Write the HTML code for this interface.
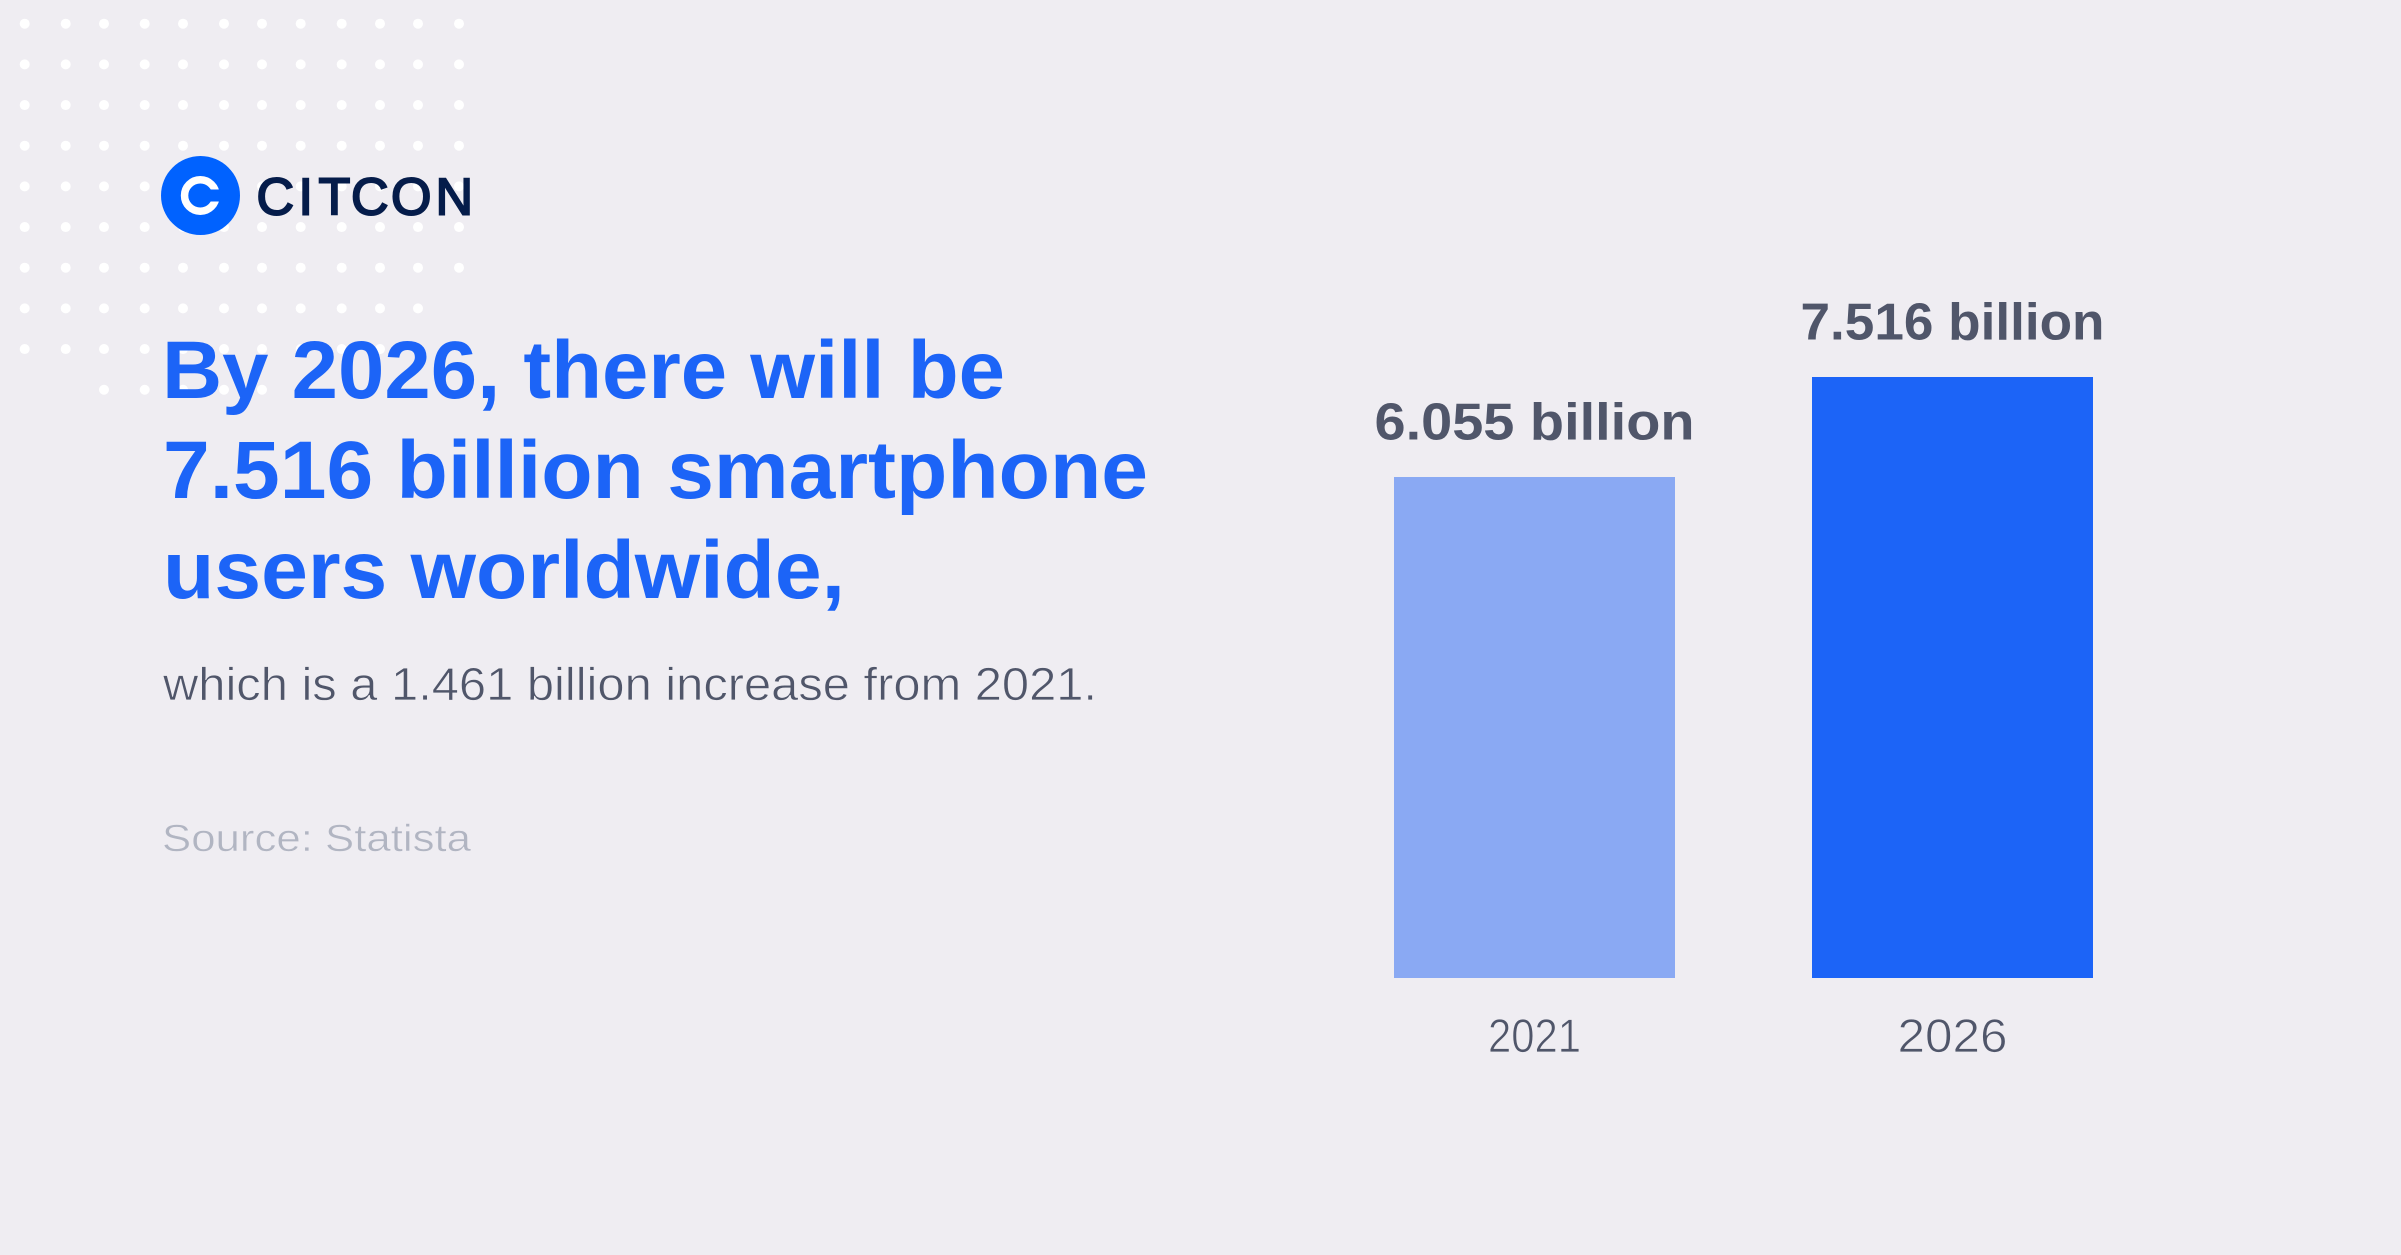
<!DOCTYPE html>
<html lang="en">
<head>
<meta charset="utf-8">
<title>Smartphone users worldwide</title>
<style>
html,body{margin:0;padding:0;background:#efedf2;width:2401px;height:1255px;overflow:hidden}
svg{display:block;position:absolute;left:0;top:0}
text{font-family:"Liberation Sans",sans-serif}
.title{font-weight:700;font-size:82px;fill:#1c64f7}
.sub{font-size:46px;fill:#50566a;stroke:#efedf2;stroke-width:.7px}
.src{font-size:38px;fill:#b1b5c2;stroke:#efedf2;stroke-width:.5px}
.val{font-weight:700;font-size:52px;fill:#50566a}
.tick{font-size:47px;fill:#50566a;stroke:#efedf2;stroke-width:.8px}
.logo{font-size:52px;fill:#051c4a;stroke:#051c4a;stroke-width:2px}
</style>
</head>
<body>
<svg id="chart" width="2401" height="1255" viewBox="0 0 2401 1255" xmlns="http://www.w3.org/2000/svg">
  <rect width="2401" height="1255" fill="#efedf2"/>
  <g id="dots" fill="#ffffff"></g>
  <g>
    <circle cx="200.5" cy="195.5" r="39.5" fill="#0062ff"/>
    <circle cx="200.3" cy="195.5" r="15.75" fill="none" stroke="#ffffff" stroke-width="7.5"/>
    <rect x="204" y="189.5" width="20" height="12" fill="#0062ff"/>
    <text class="logo" y="214.5"><tspan x="256.5">C</tspan><tspan x="298.5">I</tspan><tspan x="318.5">T</tspan><tspan x="351">C</tspan><tspan x="391">O</tspan><tspan x="435.5">N</tspan></text>
  </g>
  <text class="title" x="162" y="398" textLength="843" lengthAdjust="spacingAndGlyphs">By 2026, there will be</text>
  <text class="title" x="163" y="498" textLength="985" lengthAdjust="spacingAndGlyphs">7.516 billion smartphone</text>
  <text class="title" x="163" y="598" textLength="682" lengthAdjust="spacingAndGlyphs">users worldwide,</text>
  <text class="sub" x="163" y="700" textLength="934" lengthAdjust="spacingAndGlyphs">which is a 1.461 billion increase from 2021.</text>
  <text class="src" x="162" y="851" textLength="309" lengthAdjust="spacingAndGlyphs">Source: Statista</text>
  <g id="bars"></g>
</svg>
<script>
const categories = ['2021', '2026'];
const seriesValues = [6.055, 7.516];
const barColors = ['#8aa9f3', '#1c64f7'];

const NS = 'http://www.w3.org/2000/svg';
const yDomain = [-1.264, 7.516];
const yRange = [978, 377];
const xStart = 1534.5, xStep = 418, barWidth = 281;

function xScale(i) { return xStart + i * xStep; }
function yScale(v) {
  return yRange[0] + (v - yDomain[0]) * (yRange[1] - yRange[0]) / (yDomain[1] - yDomain[0]);
}
function countOnes(s) { return s.split('1').length - 1; }

const barsGroup = document.getElementById('bars');
categories.forEach(function (cat, i) {
  const v = seriesValues[i];
  const top = yScale(v);
  const cx = xScale(i);

  const bar = document.createElementNS(NS, 'rect');
  bar.setAttribute('x', cx - barWidth / 2);
  bar.setAttribute('y', top);
  bar.setAttribute('width', barWidth);
  bar.setAttribute('height', yRange[0] - top);
  bar.setAttribute('fill', barColors[i]);
  
  
  barsGroup.appendChild(bar);

  const valStr = v.toFixed(3) + ' billion';
  const label = document.createElementNS(NS, 'text');
  label.setAttribute('class', 'val');
  label.setAttribute('x', cx);
  label.setAttribute('y', top - 37.5);
  label.setAttribute('text-anchor', 'middle');
  label.setAttribute('textLength', 320 - 16 * countOnes(valStr));
  label.setAttribute('lengthAdjust', 'spacingAndGlyphs');
  label.textContent = valStr;
  
  
  barsGroup.appendChild(label);

  const tick = document.createElementNS(NS, 'text');
  tick.setAttribute('class', 'tick');
  tick.setAttribute('x', cx);
  tick.setAttribute('y', 1052);
  tick.setAttribute('text-anchor', 'middle');
  tick.setAttribute('textLength', 110 - 17 * countOnes(cat));
  tick.setAttribute('lengthAdjust', 'spacingAndGlyphs');
  tick.textContent = cat;
  
  
  barsGroup.appendChild(tick);
});

const dotsGroup = document.getElementById('dots');
const dotCols = [24.7, 65.7, 104, 144.7, 183, 224, 262, 300.7, 341.7, 380, 418, 459];
const dotRowSpans = [[0,12],[0,12],[0,12],[0,12],[0,12],[0,12],[0,12],[0,11],[0,10],[2,7]];
dotRowSpans.forEach(function (span, r) {
  for (let c = span[0]; c < span[1]; c++) {
    const dot = document.createElementNS(NS, 'circle');
    dot.setAttribute('cx', dotCols[c]);
    dot.setAttribute('cy', 23.7 + r * 40.67);
    dot.setAttribute('r', 5);
    
    
    dotsGroup.appendChild(dot);
  }
});
</script>
</body>
</html>
